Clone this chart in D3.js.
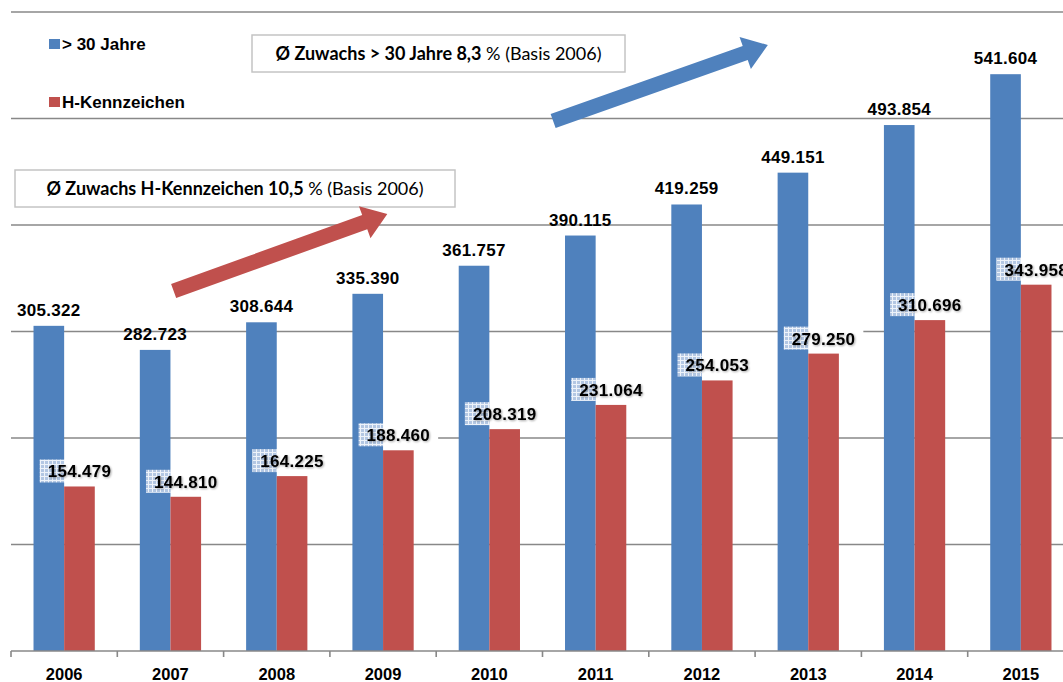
<!DOCTYPE html>
<html>
<head>
<meta charset="utf-8">
<script src="https://cdn.jsdelivr.net/npm/d3@7"></script>
<style>
  html, body { margin: 0; padding: 0; background: #fff; }
  svg { display: block; }
</style>
</head>
<body>
<div id="chart"></div>
<script>
// chart data
const years = ["2006", "2007", "2008", "2009", "2010", "2011", "2012", "2013", "2014", "2015"];
const over30 = [305322, 282723, 308644, 335390, 361757, 390115, 419259, 449151, 493854, 541604];
const hKennzeichen = [154479, 144810, 164225, 188460, 208319, 231064, 254053, 279250, 310696, 343958];
const seriesNames = ["> 30 Jahre", "H-Kennzeichen"];
const yTicks = [0, 100000, 200000, 300000, 400000, 500000, 600000];

const width = 1063, height = 682;
const blue = "#4F81BD", red = "#C0504D";
const fmt = v => d3.format(",")(v).replace(/,/g, ".");

const svg = d3.select("#chart").append("svg")
  .attr("width", width)
  .attr("height", height);

const defs = svg.append("defs");
const mesh = defs.append("pattern")
  .attr("id", "mesh")
  .attr("patternUnits", "userSpaceOnUse")
  .attr("width", 4).attr("height", 4);
mesh.append("rect").attr("width", 4).attr("height", 4).attr("fill", "#b3c7e3");
mesh.append("rect").attr("width", 4).attr("height", 1).attr("fill", "#eef3fa");
mesh.append("rect").attr("width", 1).attr("height", 4).attr("fill", "#eef3fa");

const shadow = defs.append("filter").attr("id", "soft")
  .attr("x", "-10%").attr("y", "-20%").attr("width", "120%").attr("height", "140%");
shadow.append("feGaussianBlur").attr("in", "SourceAlpha").attr("stdDeviation", 0.9).attr("result", "b");
shadow.append("feOffset").attr("in", "b").attr("dx", 0.6).attr("dy", 0.6).attr("result", "o");
shadow.append("feComponentTransfer").attr("in", "o").attr("result", "s")
  .append("feFuncA").attr("type", "linear").attr("slope", 0.35);
const merge = shadow.append("feMerge");
merge.append("feMergeNode").attr("in", "s");
merge.append("feMergeNode").attr("in", "SourceGraphic");

// scales
const x0 = d3.scaleBand().domain(years).range([11, 1074]).padding(0);
const x1 = d3.scaleBand().domain(seriesNames).range([0, x0.bandwidth()])
  .paddingInner(0).paddingOuter(0.735);
const y = d3.scaleLinear().domain([0, 600000]).range([651, 12]);
const idx = d3.scaleLinear().domain([0, years.length]).range(x0.range());

// gridlines
svg.append("g")
  .selectAll("line")
  .data(yTicks.slice(1))
  .join("line")
  .attr("x1", x0.range()[0]).attr("x2", width)
  .attr("y1", d => y(d)).attr("y2", d => y(d))
  .attr("stroke", "#888").attr("stroke-width", 1.6);

// bars
const groups = svg.append("g")
  .selectAll("g")
  .data(years.map((yr, i) => ({ yr, vals: [over30[i], hKennzeichen[i]] })))
  .join("g")
  .attr("transform", d => `translate(${x0(d.yr)},0)`);

groups.selectAll("rect")
  .data(d => d.vals.map((v, j) => ({ name: seriesNames[j], v })))
  .join("rect")
  .attr("x", d => x1(d.name))
  .attr("width", x1.bandwidth())
  .attr("y", d => y(d.v))
  .attr("height", d => y(0) - y(d.v))
  .attr("fill", d => d.name === seriesNames[0] ? blue : red);

// x axis
const axisG = svg.append("g").attr("transform", `translate(0,${y(0)})`);
axisG.append("line")
  .attr("x1", x0.range()[0]).attr("x2", width)
  .attr("stroke", "#888").attr("stroke-width", 1.6);
axisG.selectAll("line.tick")
  .data(years.concat(["end"]))
  .join("line")
  .attr("class", "tick")
  .attr("x1", (d, i) => idx(i)).attr("x2", (d, i) => idx(i))
  .attr("y1", 0).attr("y2", 6)
  .attr("stroke", "#888").attr("stroke-width", 1.6);
axisG.selectAll("text")
  .data(years)
  .join("text")
  .attr("x", d => x0(d) + x0.bandwidth() / 2)
  .attr("y", 29)
  .attr("text-anchor", "middle")
  .attr("font-family", "Liberation Sans, Arial, sans-serif")
  .attr("font-weight", "bold")
  .attr("font-size", 16.5)
  .attr("fill", "#000")
  .text(d => d);

// value labels, blue
svg.append("g")
  .selectAll("text")
  .data(years.map((yr, i) => ({ yr, v: over30[i] })))
  .join("text")
  .attr("x", d => x0(d.yr) + x1(seriesNames[0]) + x1.bandwidth() / 2)
  .attr("y", d => y(d.v) - 10)
  .attr("text-anchor", "middle")
  .attr("font-family", "Liberation Sans, Arial, sans-serif")
  .attr("font-weight", "bold")
  .attr("font-size", 17)
  .attr("letter-spacing", 0.3)
  .attr("fill", "#000")
  .text(d => fmt(d.v));

// value labels, red (mesh background over the blue bar, white elsewhere)
const redLab = svg.append("g")
  .selectAll("g")
  .data(years.map((yr, i) => ({ yr, v: hKennzeichen[i] })))
  .join("g");

redLab.append("text")
  .attr("x", d => x0(d.yr) + x1(seriesNames[1]) + x1.bandwidth() / 2)
  .attr("y", d => y(d.v) - 9)
  .attr("text-anchor", "middle")
  .attr("font-family", "Liberation Sans, Arial, sans-serif")
  .attr("font-weight", "bold")
  .attr("font-size", 17)
  .attr("letter-spacing", 0.3)
  .attr("fill", "#000")
  .attr("filter", "url(#soft)")
  .text(d => fmt(d.v));

redLab.each(function (d) {
  const g = d3.select(this);
  const bb = g.select("text").node().getBBox();
  const left = bb.x - 8, right = bb.x + bb.width + 8;
  const barEdge = x0(d.yr) + x1(seriesNames[1]);
  const top = bb.y - 3, h = bb.height + 4;
  g.insert("rect", "text")
    .attr("x", barEdge).attr("y", top)
    .attr("width", right - barEdge).attr("height", h)
    .attr("fill", "#fff");
  g.insert("rect", "text")
    .attr("x", left).attr("y", top)
    .attr("width", barEdge - left).attr("height", h)
    .attr("fill", "url(#mesh)");
});

// legend
const legend = svg.append("g");
seriesNames.forEach((name, i) => {
  const ly = 39 + i * 58;
  legend.append("rect")
    .attr("x", 49).attr("y", ly)
    .attr("width", 11).attr("height", 10)
    .attr("fill", i === 0 ? blue : red);
  legend.append("text")
    .attr("x", 62).attr("y", ly + 11)
    .attr("font-family", "Liberation Sans, Arial, sans-serif")
    .attr("font-weight", "bold")
    .attr("font-size", 17)
    .text(name);
});

// annotation boxes
const notes = [
  { x: 252, y: 35, w: 373, h: 37, bold: "Ø Zuwachs > 30 Jahre 8,3", rest: " % (Basis 2006)" },
  { x: 15, y: 170, w: 440, h: 37, bold: "Ø Zuwachs H-Kennzeichen 10,5", rest: " % (Basis 2006)" }
];
notes.forEach(n => {
  svg.append("rect")
    .attr("x", n.x).attr("y", n.y)
    .attr("width", n.w).attr("height", n.h)
    .attr("fill", "#fff")
    .attr("stroke", "#c4c4c4")
    .attr("stroke-width", 1.5);
  const t = svg.append("text")
    .attr("x", n.x + n.w / 2)
    .attr("y", n.y + n.h / 2 + 6.5)
    .attr("text-anchor", "middle")
    .attr("font-family", "Lato, 'Open Sans', sans-serif")
    .attr("font-size", 18)
    .attr("fill", "#000");
  t.append("tspan").attr("font-weight", "bold").text(n.bold);
  t.append("tspan").text(n.rest);
});

// trend arrows (positions in category index / value units)
const arrows = [
  { from: [1.53, 338000], to: [3.54, 410300], color: red },
  { from: [5.10, 497700], to: [7.12, 569000], color: blue }
];
arrows.forEach(a => {
  const x1p = idx(a.from[0]), y1p = y(a.from[1]);
  const x2p = idx(a.to[0]), y2p = y(a.to[1]);
  const dx = x2p - x1p, dy = y2p - y1p;
  const len = Math.hypot(dx, dy);
  const ux = dx / len, uy = dy / len;
  const nx = -uy, ny = ux;
  const sw = 7.5, hw = 17, hl = 24;
  const bx = x2p - ux * hl, by = y2p - uy * hl;
  const pts = [
    [x1p + nx * sw, y1p + ny * sw],
    [bx + nx * sw, by + ny * sw],
    [bx + nx * hw, by + ny * hw],
    [x2p, y2p],
    [bx - nx * hw, by - ny * hw],
    [bx - nx * sw, by - ny * sw],
    [x1p - nx * sw, y1p - ny * sw]
  ];
  svg.append("polygon")
    .attr("points", pts.map(p => p.join(",")).join(" "))
    .attr("fill", a.color);
});
</script>
</body>
</html>
